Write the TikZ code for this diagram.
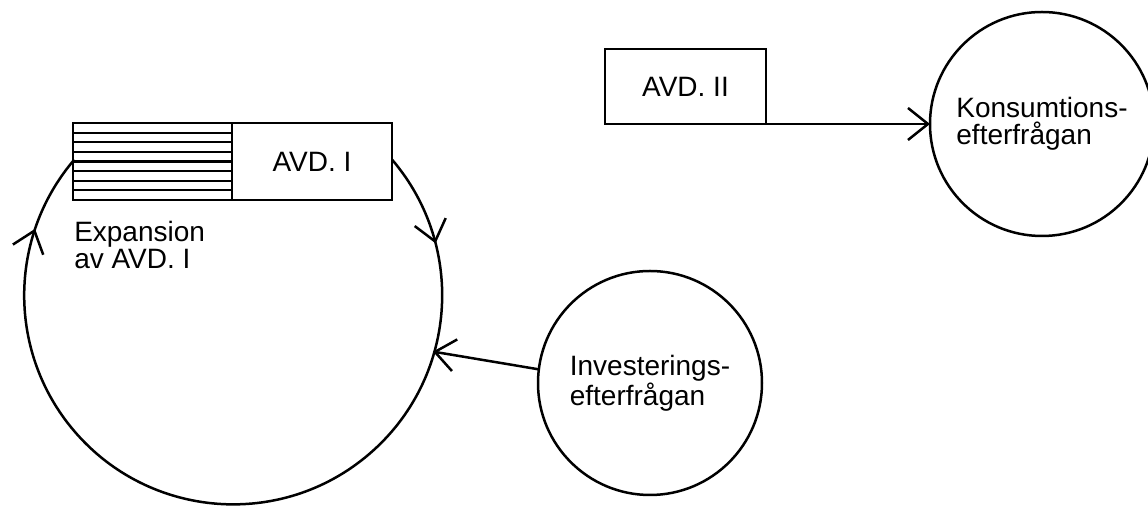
\documentclass[tikz,border=0pt]{standalone}
\usepackage{fontspec}
\setmainfont{Liberation Sans}
\usetikzlibrary{positioning,arrows.meta,decorations.markings}
\begin{document}
\begin{tikzpicture}[x=0.5pt,y=0.5pt,line width=1.25pt,
    every node/.style={font=\fontsize{14}{13.5}\selectfont},
    box/.style={draw,minimum height=38.5pt,inner sep=0pt,outer sep=0pt},
    demand/.style={draw,circle,minimum size=112pt,inner sep=0pt,outer sep=0pt,align=left},
    barb/.style={-{Straight Barb[length=10pt,width=16pt]}}]
            \useasboundingbox (0,0) rectangle (1148,-506);
            \node[box,minimum width=79.5pt](exp1)at(152.5,-161.5){};
            \node[box,minimum width=80pt,right=0pt of exp1](avd1){AVD. I};
            \foreach \k in {1,...,7}
                \draw[line width=1.1pt]([yshift=-\k*4.8125pt]exp1.north west)--([yshift=-\k*4.8125pt]exp1.north east);
            \node[align=left,inner sep=0pt,below right=10pt and 0pt of exp1.south west](exp2){Expansion\\av AVD. I};
            \node[circle,minimum size=209pt,inner sep=0pt,outer sep=0pt](loop)at(232,-294){};
            \draw[postaction={decorate},decoration={markings,
                mark=at position 0.1 with {\arrow{Straight Barb[length=10pt,width=16pt]}},
                mark=at position 0.916 with {\arrow{Straight Barb[length=10pt,width=16pt]}}}]
                (loop.40.5) arc[start angle=40.5,end angle=-220.5,radius=104.5pt];
            \node[box,minimum width=80.5pt,minimum height=37.5pt](avd2)at(685.5,-86.5){AVD. II};
            \node[demand](kons)at(1042,-124){Konsumtions-\\efterfrågan};
            \node[demand](inv)at(650,-383){Investerings-\\efterfrågan};
            \draw[barb](avd2.south east)--(avd2.south east-|kons.west);
            \draw[barb](inv.173.4)--(loop.-16.9);
        \end{tikzpicture}
\end{document}
